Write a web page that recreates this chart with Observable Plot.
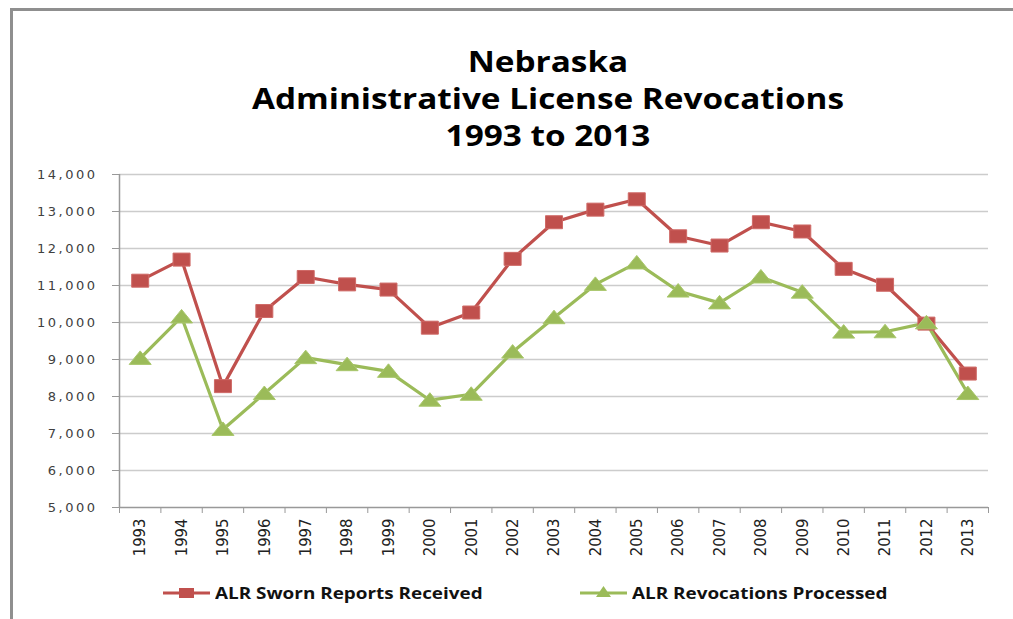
<!DOCTYPE html>
<html>
<head>
<meta charset="utf-8">
<script src="https://cdn.jsdelivr.net/npm/d3@7"></script>
<script src="https://cdn.jsdelivr.net/npm/@observablehq/plot@0.6"></script>
<style>
  html, body { margin: 0; padding: 0; width: 1013px; height: 619px; overflow: hidden; background: #fff; }
  ::-webkit-scrollbar { display: none; width: 0; height: 0; }
  #frame { position: absolute; left: 10px; top: 8px; width: 1003px; height: 611px; border-top: 3px solid #8f8f8f; border-left: 3px solid #8f8f8f; box-sizing: border-box; }
  #title { position: absolute; left: 148px; top: 43px; width: 800px; text-align: center; font-family: "Open Sans", sans-serif; font-weight: 700; font-size: 28px; line-height: 37px; color: #000; transform: scaleX(1.19); transform-origin: 400px 0; }
  #chart { position: absolute; left: 0; top: 160px; }
  .leg { position: absolute; top: 583px; height: 20px; display: flex; align-items: center; font-family: "Open Sans", sans-serif; font-weight: 700; font-size: 16px; color: #111; white-space: nowrap; }
  .leg svg { margin-right: 5px; }
  .leg span { display: inline-block; transform: scaleX(1.18); transform-origin: 0 50%; }
  #chart svg g[aria-label="y-axis tick label"] text { letter-spacing: 2.5px; }
</style>
</head>
<body>
<div id="frame"></div>
<div id="title">Nebraska<br>Administrative License Revocations<br>1993 to 2013</div>
<div id="chart"></div>
<div class="leg" id="leg1" style="left:163px"></div>
<div class="leg" id="leg2" style="left:580px"></div>
<script>
const years = [1993, 1994, 1995, 1996, 1997, 1998, 1999, 2000, 2001, 2002, 2003, 2004, 2005, 2006, 2007, 2008, 2009, 2010, 2011, 2012, 2013];
const swornReports = [11130, 11700, 8280, 10310, 11230, 11030, 10890, 9860, 10270, 11720, 12710, 13050, 13330, 12330, 12080, 12710, 12460, 11450, 11020, 9970, 8620];
const revocationsProcessed = [9030, 10150, 7110, 8080, 9050, 8860, 8680, 7900, 8060, 9200, 10130, 11030, 11610, 10850, 10530, 11230, 10820, 9740, 9750, 9990, 8080];
const seriesNames = ["ALR Sworn Reports Received", "ALR Revocations Processed"];
const seriesColors = ["#C0504D", "#9BBB59"];
const yTicks = [5000, 6000, 7000, 8000, 9000, 10000, 11000, 12000, 13000, 14000];

const sworn = years.map((y, i) => ({year: y, value: swornReports[i]}));
const processed = years.map((y, i) => ({year: y, value: revocationsProcessed[i]}));
const boundaries = [years[0] - 0.5, ...years.map(y => y + 0.5)];

const wideSquare = {draw(ctx) { ctx.moveTo(-8.5, -6.5); ctx.lineTo(8.5, -6.5); ctx.lineTo(8.5, 6.5); ctx.lineTo(-8.5, 6.5); ctx.closePath(); }};
const wideTriangle = {draw(ctx) { ctx.moveTo(0, -7.5); ctx.lineTo(11, 6); ctx.lineTo(-11, 6); ctx.closePath(); }};

const chart = Plot.plot({
  width: 1013,
  height: 400,
  marginLeft: 119,
  marginRight: 25,
  marginTop: 14,
  marginBottom: 53,
  x: {type: "linear", domain: [boundaries[0], boundaries[boundaries.length - 1]]},
  y: {domain: [5000, 14000]},
  marks: [
    Plot.ruleY(yTicks.filter(d => d > 5000), {stroke: "#cccccc", strokeWidth: 1.6}),
    Plot.axisY(yTicks, {tickSize: 7, tickPadding: 15, stroke: "#999", tickFormat: d3.format(","), fontSize: 13, fontFamily: "DejaVu Sans, Verdana, sans-serif", fill: "#404040", label: null}),
    Plot.axisX(boundaries, {tickSize: 6, stroke: "#999", tickFormat: () => "", label: null}),
    Plot.axisX(years, {tickSize: 0, tickPadding: 11, tickRotate: -90, tickFormat: d => String(d), fontSize: 16.5, fontFamily: "Liberation Sans Narrow, DejaVu Sans Condensed, sans-serif", fill: "#222", label: null}),
    Plot.ruleY([5000], {stroke: "#999", strokeWidth: 1.5}),
    Plot.ruleX([boundaries[0]], {y1: 5000, y2: 14000, stroke: "#999", strokeWidth: 1.5}),
    Plot.line(sworn, {x: "year", y: "value", stroke: seriesColors[0], strokeWidth: 3.2}),
    Plot.line(processed, {x: "year", y: "value", stroke: seriesColors[1], strokeWidth: 3.2}),
    Plot.dot(sworn, {x: "year", y: "value", symbol: wideSquare, fill: seriesColors[0], stroke: "#cf6a67", strokeWidth: 1}),
    Plot.dot(processed, {x: "year", y: "value", symbol: wideTriangle, fill: seriesColors[1], stroke: "#a9c76c", strokeWidth: 1})
  ]
});
document.getElementById("chart").appendChild(chart);

function swatch(color, kind) {
  const shape = kind === "square"
    ? `<rect x="16" y="5" width="15" height="10" fill="${color}"/>`
    : `<path d="M23.5,3 L31,14 L16,14 Z" fill="${color}"/>`;
  return `<svg width="47" height="20"><line x1="0" x2="47" y1="10" y2="10" stroke="${color}" stroke-width="3"/>${shape}</svg>`;
}
document.getElementById("leg1").innerHTML = swatch(seriesColors[0], "square") + `<span>${seriesNames[0]}</span>`;
document.getElementById("leg2").innerHTML = swatch(seriesColors[1], "triangle") + `<span>${seriesNames[1]}</span>`;
</script>
</body>
</html>
